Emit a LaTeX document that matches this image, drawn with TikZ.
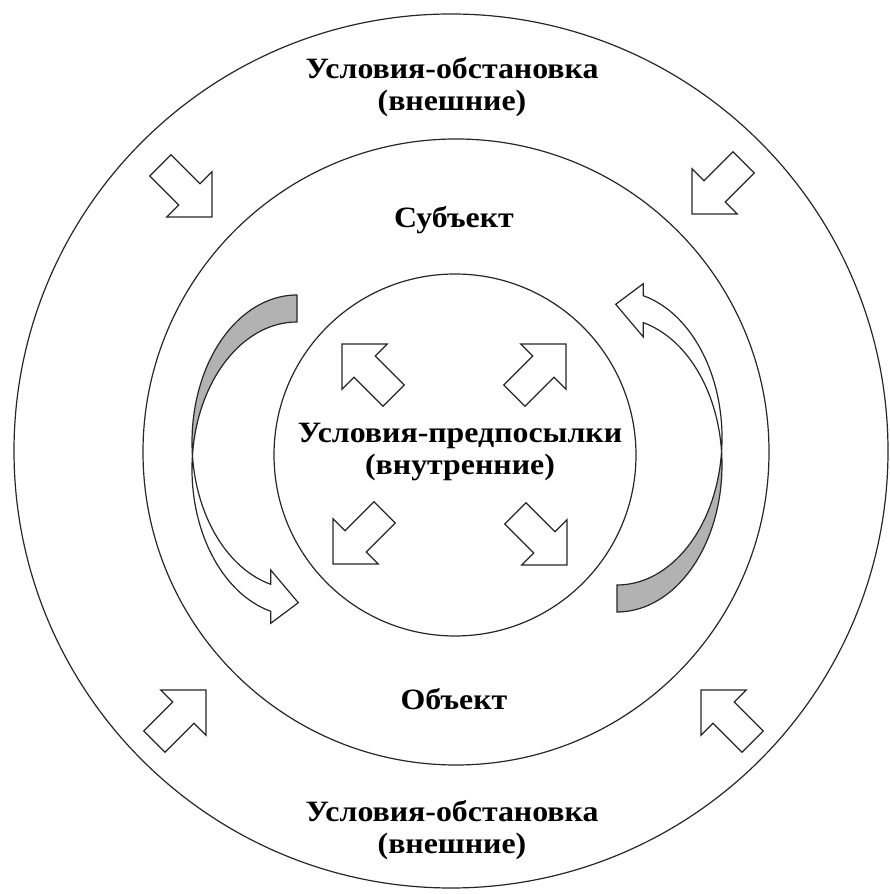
\documentclass[tikz,border=0pt]{standalone}
\usepackage{fontspec}
\setmainfont{Liberation Serif}[FakeStretch=1.08]
\usepackage{tikz}

\begin{document}
\begin{tikzpicture}[
    x=1pt, y=1pt,
    font=\bfseries\fontsize{29.5}{32}\selectfont,
    ring/.style={circle, draw=black!85, line width=1.2pt, inner sep=0pt},
    txt/.style={align=center, inner sep=0pt},
    blockarrow/.style={draw=black!85, line width=1.2pt, fill=white, line join=miter},
    bandshade/.style={draw=black!85, line width=1.2pt, fill=black!30},
    bandarrow/.style={draw=black!85, line width=1.2pt, fill=white}
]
    \useasboundingbox (0,0) rectangle (890,894);

    % --- 1. Circles ---
    \node[ring, minimum size=874pt] (outer) at (451,443) {};
    \node[ring, minimum size=626pt] (middle) at (456,442) {};
    \node[ring, minimum size=362pt] (inner) at (455,439) {};

    % --- 2. Labels ---
    \node[txt] (outtop) at (452,807) {Условия-обстановка\\(внешние)};
    \node[txt] (subj) at (454,674) {Субъект};
    \node[txt] (cond) at (460,442) {Условия-предпосылки\\(внутренние)};
    \node[txt] (obj) at (454,195) {Объект};
    \node[txt] (outbot) at (452,64) {Условия-обстановка\\(внешние)};

    % --- 3. Block arrows (tip x / tip y / angle) ---
    \foreach \x/\y/\a in {212/677/-45, 692/680/-135, 206/204/45, 701/204/135,
                          342/550/135, 566/550/45, 333/330/-135, 567/329/-45}
        \draw[blockarrow, shift={(\x,\y)}, rotate=\a]
            (0,0) -- (-32,32) -- (-32,15) -- (-73,15) -- (-73,-15)
            -- (-32,-15) -- (-32,-32) -- cycle;

    % --- 4. Curved arrows ---
    \foreach \r in {0,180} {
        \begin{scope}[rotate around={\r:(457,440.5)}]
            \draw[bandshade] (297,599)
                arc[start angle=90, end angle=185.27, x radius=105, y radius=147]
                arc[start angle=174.73, end angle=90, x radius=105, y radius=147]
                -- cycle;
            \draw[bandarrow] (192.44,438.5)
                arc[start angle=185.27, end angle=255.5, x radius=105, y radius=147]
                -- (270.7,324) -- (298.3,291.3) -- (270.7,270.7) -- (270.7,282.7)
                arc[start angle=255.5, end angle=174.73, x radius=105, y radius=147]
                -- cycle;
        \end{scope}
    }

\end{tikzpicture}
\end{document}
